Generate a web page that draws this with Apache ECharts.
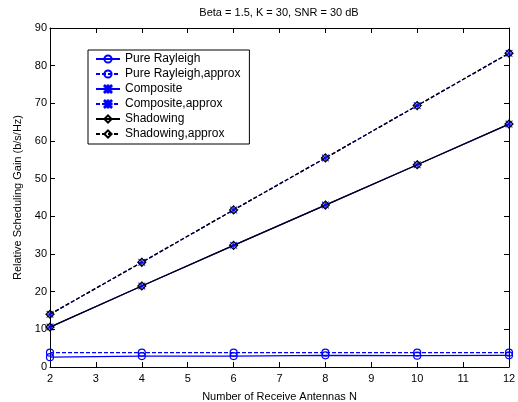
<!DOCTYPE html>
<html><head><meta charset="utf-8">
<script src="https://cdn.jsdelivr.net/npm/echarts@6/dist/echarts.min.js"></script>
<style>html,body{margin:0;padding:0;background:#fff}#c{width:518px;height:402px}</style>
</head><body><div id="c"></div>
<script>
const antennas = [2, 4, 6, 8, 10, 12];
const pureRayleigh = [2.6, 2.9, 2.9, 3.1, 3.0, 3.1];
const pureRayleighApprox = [3.8, 3.8, 3.8, 3.8, 3.8, 3.8];
const composite = [10.6, 21.5, 32.3, 43.0, 53.7, 64.5];
const compositeApprox = [14.0, 27.8, 41.7, 55.5, 69.4, 83.3];
const shadowing = [10.6, 21.5, 32.3, 43.0, 53.7, 64.5];
const shadowingApprox = [14.0, 27.8, 41.7, 55.5, 69.4, 83.3];
const xTicks = [2,3,4,5,6,7,8,9,10,11,12];
const yTicks = [0,10,20,30,40,50,60,70,80,90];

const pair = (ys) => antennas.map((x, i) => [x, ys[i]]);
const font = 'Liberation Sans, Arial, sans-serif';
const blue = '#0000ff', black = '#000000';
const asterisk = 'path://M4.5 0 h1 v10 h-1 Z M0 4.5 h10 v1 h-10 Z M0.7 0 L10 9.3 L9.3 10 L0 0.7 Z M9.3 0 L10 0.7 L0.7 10 L0 9.3 Z';
function mk(name, data, color, dashed, symbol, size, fill, bw) {
  return {
    name, type: 'line', data: pair(data), symbol, symbolSize: size,
    showAllSymbol: true,
    lineStyle: { color, width: 1.3, type: dashed ? [4, 2] : 'solid' },
    itemStyle: { color: fill, borderColor: color, borderWidth: bw },
    emphasis: { disabled: true }, animation: false
  };
}
const chart = echarts.init(document.getElementById('c'), null, { renderer: 'canvas' });
const axisCommon = {
  axisLine: { show: true, onZero: false, lineStyle: { color: '#000', width: 1 } },
  axisTick: { show: true, inside: true, length: 5, lineStyle: { color: '#000' } },
  splitLine: { show: false }
};
chart.setOption({
  animation: false,
  title: { text: 'Beta = 1.5, K = 30, SNR = 30 dB', left: 279, top: 7, padding: 0, textAlign: 'center',
    textStyle: { fontFamily: font, fontSize: 11, fontWeight: 'normal', color: '#000' } },
  grid: { left: 50, right: 9, top: 28, bottom: 35, outerBoundsMode: 'none', containLabel: false },
  legend: {
    orient: 'vertical', left: 88, top: 50, itemWidth: 24, itemHeight: 9, itemGap: 3,
    backgroundColor: '#fff', borderColor: '#000', borderWidth: 1, borderRadius: 0,
    padding: [3, 9, 4, 7],
    textStyle: { fontFamily: font, fontSize: 12, color: '#000' },
    data: ['Pure Rayleigh', 'Pure Rayleigh,approx', 'Composite', 'Composite,approx', 'Shadowing', 'Shadowing,approx'],
    selectedMode: false
  },
  xAxis: [
    Object.assign({ type: 'value', min: 2, max: 12, interval: 1, position: 'bottom',
      name: 'Number of Receive Antennas N', nameLocation: 'middle', nameGap: 24,
      nameTextStyle: { fontFamily: font, fontSize: 11, color: '#000' },
      axisLabel: { fontFamily: font, fontSize: 11, color: '#000', margin: 6,
        customValues: xTicks } }, axisCommon),
    Object.assign({ type: 'value', min: 2, max: 12, interval: 1, position: 'top',
      axisLabel: { show: false } }, axisCommon)
  ],
  yAxis: [
    Object.assign({ type: 'value', min: 0, max: 90, interval: 10, position: 'left',
      name: 'Relative Scheduling Gain (b/s/Hz)', nameLocation: 'middle', nameGap: 26,
      nameTextStyle: { fontFamily: font, fontSize: 11, color: '#000' },
      axisLabel: { fontFamily: font, fontSize: 11, color: '#000', margin: 3,
        customValues: yTicks } }, axisCommon),
    Object.assign({ type: 'value', min: 0, max: 90, interval: 10, position: 'right',
      axisLabel: { show: false } }, axisCommon)
  ],
  series: [
    mk('Pure Rayleigh', pureRayleigh, blue, false, 'circle', 7, 'rgba(0,0,0,0)', 1.2),
    mk('Pure Rayleigh,approx', pureRayleighApprox, blue, true, 'circle', 7, 'rgba(0,0,0,0)', 1.2),
    mk('Composite', composite, blue, false, asterisk, 7, blue, 0.3),
    mk('Composite,approx', compositeApprox, blue, true, asterisk, 7, blue, 0.3),
    mk('Shadowing', shadowing, black, false, 'diamond', 8, 'rgba(0,0,0,0)', 1.2),
    mk('Shadowing,approx', shadowingApprox, black, true, 'diamond', 8, 'rgba(0,0,0,0)', 1.2)
  ]
});
</script></body></html>
